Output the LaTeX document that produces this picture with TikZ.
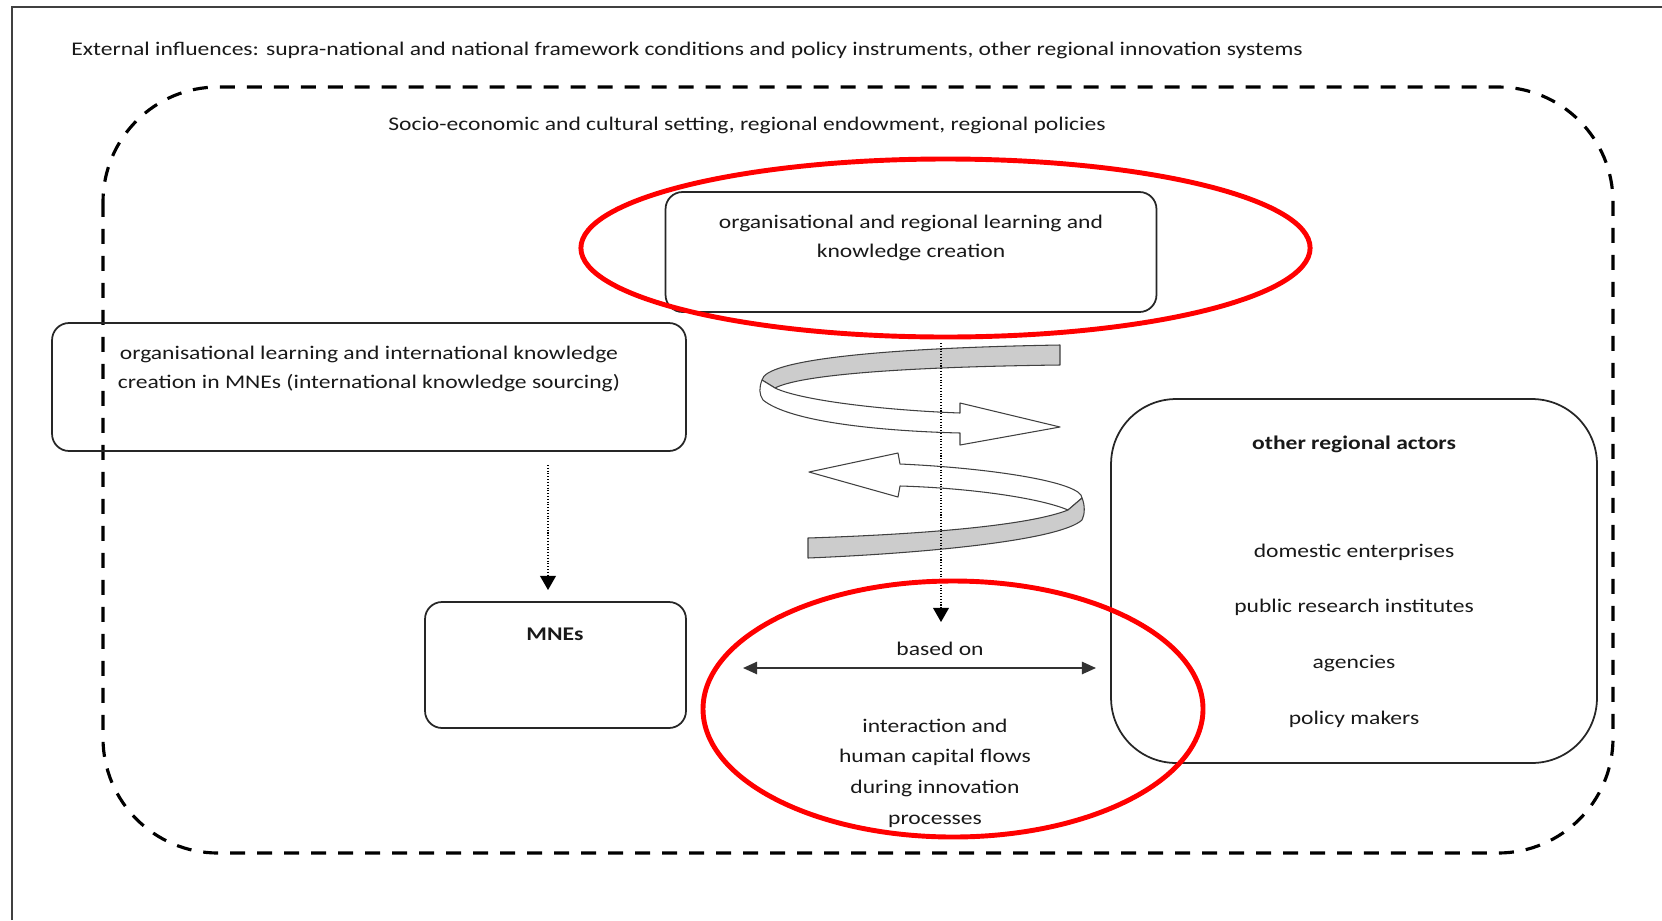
\documentclass[tikz,border=0pt]{standalone}
\usepackage{fontspec}
\setmainfont{Carlito}[FakeStretch=1.22]
\usetikzlibrary{arrows.meta}

\tikzset{
	box/.style={draw=black!85, line width=1pt, rounded corners=0.34cm, inner sep=0pt},
	txt/.style={font=\fontsize{11}{16.5}\selectfont, text=black!90, align=center, inner sep=0pt},
	ring/.style={draw=red, line width=2.8pt},
	band/.style={draw=black!75, line width=0.6pt, line join=round},
	flow/.style={densely dotted, line width=0.6pt, -{Triangle[width=9pt,length=8pt]}},
}

\begin{document}
\begin{tikzpicture}[x=0.02cm, y=-0.02cm]
	\useasboundingbox (0,0) rectangle (1662,920);

	% outer frame
	\draw
		[draw=black!75, line width=1.2pt] (12,920) -- (12,7) -- (1662,7);

	\node (ext) at (71,50) [txt, anchor=west] {External influences: supra-national and national framework conditions and policy instruments, other regional innovation systems};

	% regional setting
	\draw
		[line width=1.8pt, dash pattern=on 0.3cm off 0.24cm, rounded corners=2.3cm] (103,87) rectangle (1613,853);

	\node (setting) at (747,125) [txt] {Socio-economic and cultural setting, regional endowment, regional policies};

	% boxes
	\node (regbox) at (911,252) [box, minimum width=9.82cm, minimum height=2.4cm] {};
	\node (regtxt) at (911,238) [txt] {organisational and regional learning and\\knowledge creation};

	\node (intbox) at (369,387) [box, minimum width=12.68cm, minimum height=2.56cm] {};
	\node (inttxt) at (369,369) [txt] {organisational learning and international knowledge\\creation in MNEs (international knowledge sourcing)};

	\node (mnebox) at (555.5,665) [box, minimum width=5.22cm, minimum height=2.52cm] {};
	\node (mnetxt) at (555,634) [txt, font=\fontsize{11}{16.5}\selectfont\bfseries] {MNEs};

	\node (actbox) at (1354,581) [box, rounded corners=1.3cm, minimum width=9.72cm, minimum height=7.28cm] {};
	\node (acttitle) at (1354,444) [txt, font=\fontsize{11}{16.5}\selectfont\bfseries] {other regional actors};

	\foreach \t [count=\i] in {domestic enterprises, public research institutes, agencies, policy makers}
		\node (actor-\i) at (1354, 552 + 55.7*\i - 55.7) [txt] {\t};

	% spiral, upper turn
	\draw
		[band, fill=black!20] (1060,345) .. controls (880,348) and (765,360) .. (762,380) -- (775,388) .. controls (800,375) and (900,367) .. (1060,365) -- cycle;

	\draw
		[band, fill=white] (762,380) .. controls (759,388) and (759,394) .. (763,400) .. controls (790,422) and (880,431) .. (960,433) -- (960,445) -- (1060,427) -- (960,403) -- (960,413) .. controls (880,410) and (800,400) .. (775,388) -- cycle;

	% spiral, lower turn
	\draw
		[band, fill=white] (809,472) -- (898,453) -- (900,464) .. controls (990,468) and (1082,482) .. (1082,498) -- (1068,510) .. controls (1040,498) and (970,488) .. (900,486) -- (898,497) -- cycle;

	\draw
		[band, fill=black!20] (1082,498) .. controls (1085,505) and (1085,514) .. (1082,520) .. controls (1060,540) and (930,553) .. (808,558) -- (808,538) .. controls (930,534) and (1030,525) .. (1068,510) -- cycle;

	% connectors
	\coordinate (regsrc) at (941,343);
	\coordinate (regtip) at (941,622);
	\coordinate (intsrc) at (548,465);
	\coordinate (inttip) at (548,590);
	\coordinate (flowl) at (743,668);
	\coordinate (flowr) at (1096,668);

	\draw
		[flow] (intsrc) -- (inttip);

	\draw
		[flow] (regsrc) -- (regtip);

	\draw
		[line width=1pt, draw=black!80, {Triangle[width=7pt,length=8pt]}-{Triangle[width=7pt,length=8pt]}] (flowl) -- (flowr);

	\node (basedon) at (940,649) [txt] {based on};
	\node (interact) at (935,773) [txt, font=\fontsize{11}{17.4}\selectfont] {interaction and\\human capital flows\\during innovation\\processes};

	% highlights
	\draw
		[ring] (945.5,248) ellipse [x radius=364.6, y radius=89];

	\draw
		[ring] (953,709) ellipse [x radius=250, y radius=128];

\end{tikzpicture}
\end{document}
